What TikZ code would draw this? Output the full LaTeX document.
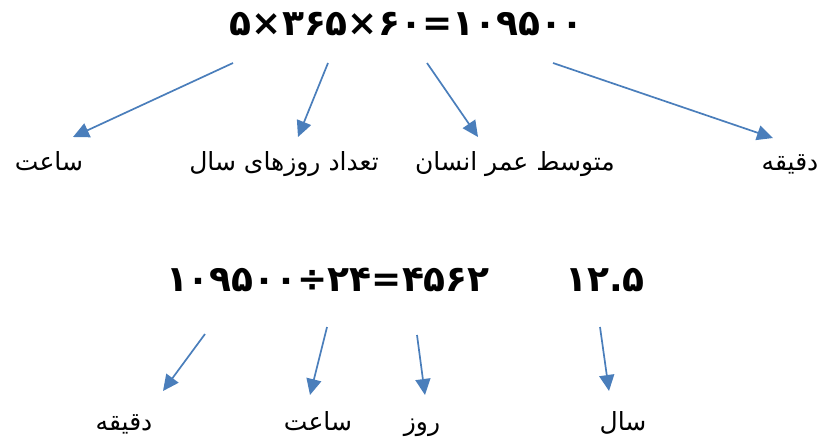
\documentclass[tikz,border=0pt]{standalone}
\usepackage{fontspec}
\usepackage{tikz}
\usetikzlibrary{positioning,arrows.meta}
\TeXXeTstate=1
\newfontfamily\arabicfont[Script=Arabic]{DejaVu Sans}
\newfontfamily\digitfont{DejaVu Sans}
\definecolor{arrblue}{RGB}{74,126,187}

\begin{document}
\begin{tikzpicture}[x=1pt,y=-1pt,
  eqn/.style={inner sep=0pt,anchor=base,font=\digitfont\bfseries\fontsize{36}{36}\selectfont},
  lbl/.style={inner sep=0pt,anchor=base,font=\arabicfont\fontsize{25}{28}\selectfont},
  arr/.style={-{Triangle[length=16pt,width=15pt]},line width=1.7pt,color=arrblue}]
  \useasboundingbox (0,0) rectangle (821,436);
  % equations
  \node[eqn] (mul) at (407,36) {۵×۳۶۵×۶۰=۱۰۹۵۰۰};
  \node[eqn] (div) at (328,291) {۱۰۹۵۰۰÷۲۴=۴۵۶۲};
  \node[eqn] (yrs) at (605,291) {۱۲.۵};
  % labels, first row
  \node[lbl] (hour) at (49,170) {\beginR ساعت\endR};
  \node[lbl] (days) at (284,170) {\beginR تعداد روزهای سال\endR};
  \node[lbl] (life) at (515,170) {\beginR متوسط عمر انسان\endR};
  \node[lbl] (mins) at (790,170) {\beginR دقیقه\endR};
  % labels, second row
  \node[lbl] (mins2) at (124,430) {\beginR دقیقه\endR};
  \node[lbl] (hour2) at (318,430) {\beginR ساعت\endR};
  \node[lbl] (day2) at (422,430) {\beginR روز\endR};
  \node[lbl] (year2) at (623,430) {\beginR سال\endR};
  % arrow ends
  \coordinate (a1) at (233,63);  \coordinate (b1) at (73,137);
  \coordinate (a2) at (328,63);  \coordinate (b2) at (298,137);
  \coordinate (a3) at (427,63);  \coordinate (b3) at (478,137);
  \coordinate (a4) at (553,63);  \coordinate (b4) at (773,138);
  \coordinate (a5) at (205,334); \coordinate (b5) at (163,391);
  \coordinate (a6) at (327,327); \coordinate (b6) at (310,395);
  \coordinate (a7) at (417,335); \coordinate (b7) at (425,395);
  \coordinate (a8) at (600,327); \coordinate (b8) at (609,391);
  \foreach \i in {1,...,8}
    \draw[arr] (a\i) -- (b\i);
\end{tikzpicture}
\end{document}
